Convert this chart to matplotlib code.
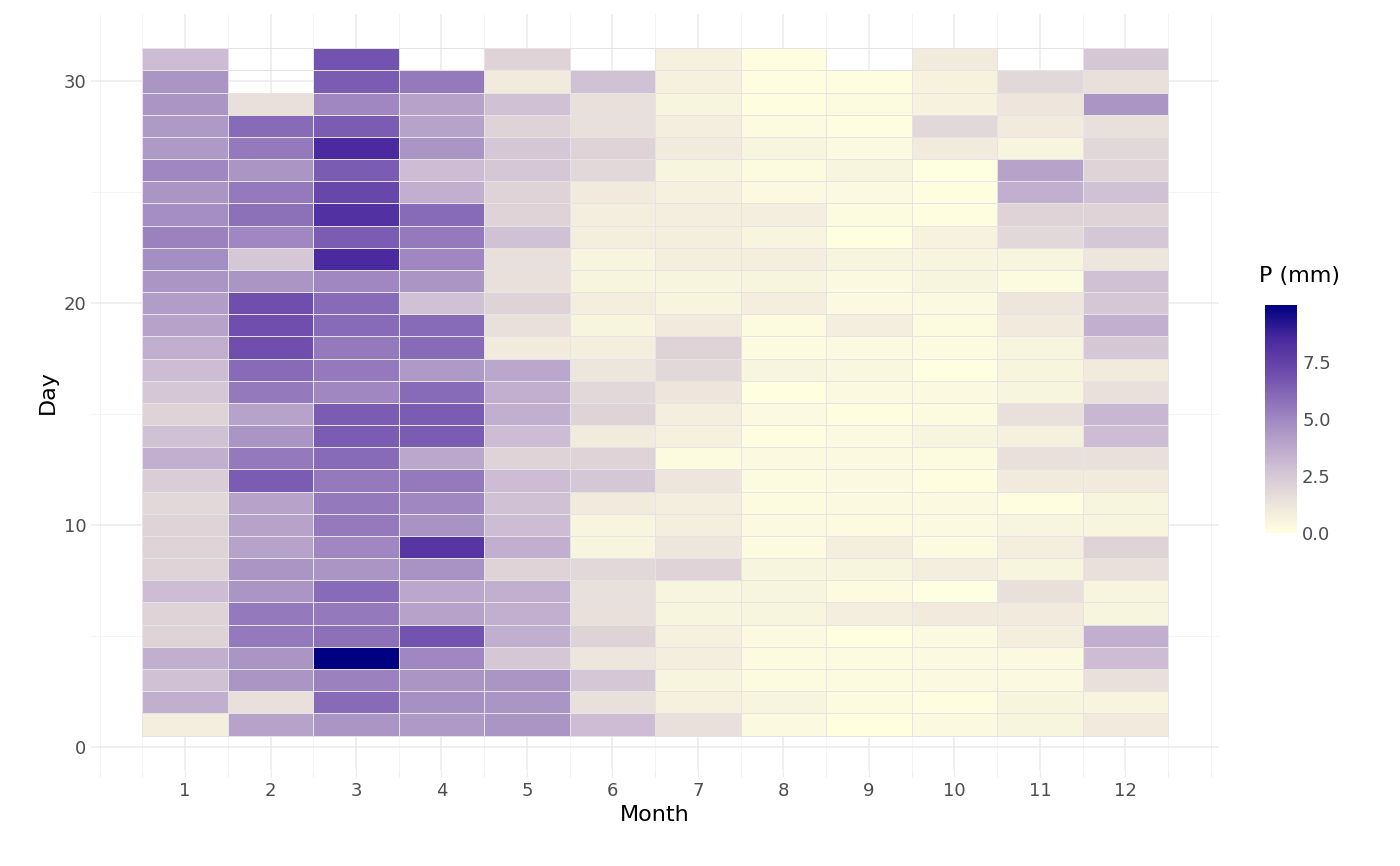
import numpy as np
import matplotlib
matplotlib.use("Agg")
import matplotlib.pyplot as plt
from matplotlib.colors import LinearSegmentedColormap, Normalize

months = list(range(1, 13))
m1 = [0.8,3.5,2.8,3.5,2,2,3,2,2,2,1.8,2.3,3.5,2.8,2,2.5,3,3.5,4,4.2,4.5,4.8,5.2,4.8,4.5,5,4.3,4.3,4.5,4.5,3]
m2 = [4,1.5,4.5,4.5,5.5,5.5,4.5,4.5,4,4,4,6.5,5.5,4.5,4,5.5,6,7,7,7,4.5,2.5,5,5.8,5.5,4.5,5.5,6,1.5]
m3 = [4.5,6,5.2,10,5.8,5.5,6,4.5,5,5.5,5.5,5.5,6,6.5,6.5,5,5.5,5.5,6,6,5,8.5,6.5,8.2,7.3,6.5,8.5,6.5,5,6.5,6.8]
m4 = [4.3,4.7,4.5,5,6.8,4,3.8,4.6,8,4.6,5,5.5,3.8,6.5,6.5,6,4.3,6,6,2.8,4.5,5,5.5,6,3.5,3,4.5,4,4,5.5]
m5 = [4.5,4.5,4.5,2.5,3.5,3.5,3.5,2,3.5,3,2.8,3,2,3,3.5,3.5,3.8,1,1.5,2,1.5,1.5,2.8,2,2,2.5,2.5,2,2.8,1,2]
m6 = [3,1.5,2.5,1.2,2,1.5,1.5,1.8,0.5,0.5,1,2.5,2,1,2,1.8,1.2,0.8,0.5,0.8,0.5,0.5,0.8,0.8,1,1.8,2,1.5,1.5,2.8]
m7 = [1.5,0.7,0.5,0.8,0.7,0.5,0.5,2,1.2,0.8,0.8,1.2,0.2,0.7,0.8,1.2,1.8,2,1,0.5,0.5,0.8,0.8,0.8,0.7,0.5,1,0.8,0.5,0.7,0.7]
m8 = [0.3,0.5,0.2,0.2,0.3,0.5,0.5,0.5,0.2,0.3,0.2,0.2,0.3,0.1,0.3,0,0.5,0.2,0.2,0.8,0.5,0.8,0.5,0.8,0.3,0.2,0.5,0.2,0.1,0.1,0.1]
m9 = [0,0.2,0.2,0.2,0,0.8,0.2,0.5,0.8,0.2,0.3,0.3,0.3,0.3,0.1,0.3,0.4,0.3,0.8,0.3,0.3,0.5,0.05,0.2,0.3,0.5,0.3,0.1,0.2,0.1]
m10 = [0.3,0.1,0.3,0.3,0.3,1,0.05,0.8,0.2,0.3,0.3,0.1,0.2,0.5,0.2,0.3,0.05,0.2,0.2,0.3,0.5,0.5,0.6,0.1,0.1,0.05,1,1.8,0.6,0.6,1]
m11 = [0.5,0.5,0.3,0.3,0.8,1,1.5,0.5,0.8,0.5,0.1,1,1.5,0.7,1.5,0.5,0.5,0.5,1,1.2,0.2,0.5,1.8,2,3.5,4,0.5,1,1.2,1.8]
m12 = [1,0.5,1.5,3,3.5,0.5,0.5,1.5,2,0.5,0.5,1,1.5,3,3.2,1.5,1,2.5,3.5,2.5,2.8,1.2,2.5,2,2.8,2,1.8,1.5,4.5,1.5,2.5]
monthly = [m1, m2, m3, m4, m5, m6, m7, m8, m9, m10, m11, m12]

grid = np.full((31, 12), np.nan)
for j, vals in enumerate(monthly):
    grid[:len(vals), j] = vals
data = np.ma.masked_invalid(grid)

cmap = LinearSegmentedColormap.from_list("p", [
    (0.0, "#FFFFE0"), (0.15, "#E9DFDB"), (0.3, "#CDBCD3"), (0.5, "#A088C1"),
    (0.7, "#6F4EAE"), (0.85, "#4B2A9F"), (1.0, "#000080")])
vmax = 10.0
norm = Normalize(0, vmax)

fig = plt.figure(figsize=(14, 8.66), dpi=100)
ax = fig.add_axes([0.065, 0.111, 0.806, 0.873])
xe = np.arange(0.5, 13.0, 1.0)
ye = np.arange(0.5, 32.0, 1.0)
ax.pcolormesh(xe, ye, data, cmap=cmap, norm=norm, edgecolor="#E4E4E4", linewidth=0.6, zorder=2)
ax.set_xlim(-0.1, 13.1)
ax.set_ylim(-1.05, 33.05)
ax.set_xticks(months)
ax.set_xticks(np.arange(0, 13.5, 0.5), minor=True)
ax.set_yticks([0, 10, 20, 30])
ax.set_yticks([5, 15, 25], minor=True)
ax.grid(True, which="major", color="#EBEBEB", linewidth=1.1, zorder=0)
ax.grid(True, which="minor", color="#F2F2F2", linewidth=0.6, zorder=0)
for s in ax.spines.values():
    s.set_visible(False)
ax.tick_params(axis="x", which="both", length=5, color="#EBEBEB", labelsize=13, labelcolor="#4D4D4D")
ax.tick_params(axis="y", which="both", length=0, labelsize=13, labelcolor="#4D4D4D")
ax.set_xlabel("Month", fontsize=16)
ax.set_ylabel("Day", fontsize=16)

cax = fig.add_axes([0.9036, 0.3845, 0.023, 0.263])
cb = fig.colorbar(plt.cm.ScalarMappable(norm=norm, cmap=cmap), cax=cax, ticks=[0, 2.5, 5, 7.5])
cb.ax.set_yticklabels(["0.0", "2.5", "5.0", "7.5"])
cb.outline.set_visible(False)
cb.ax.tick_params(length=0, labelsize=13, labelcolor="#4D4D4D")
fig.text(0.899, 0.67, "P (mm)", fontsize=16, ha="left", va="bottom")

fig.savefig("out.png", dpi=100)
